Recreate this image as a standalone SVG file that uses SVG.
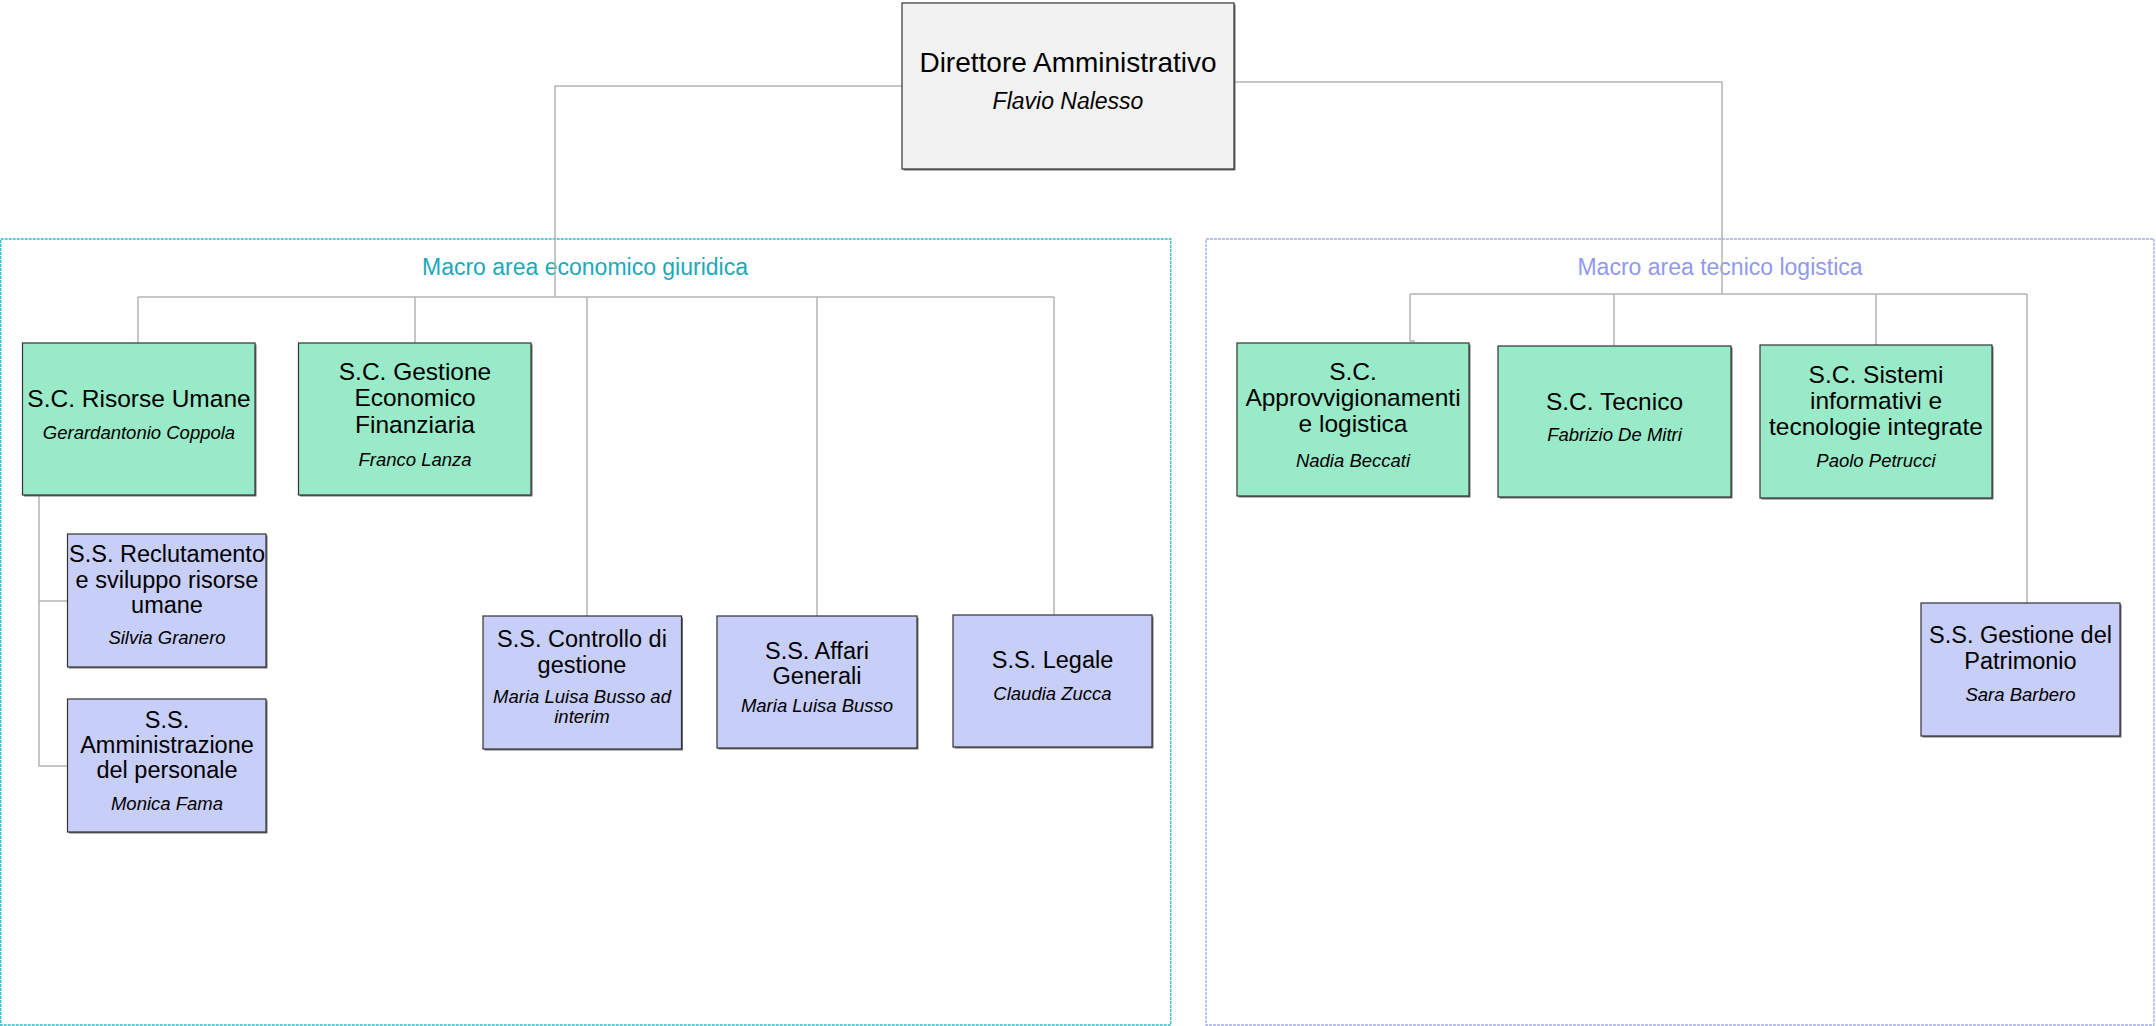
<svg xmlns="http://www.w3.org/2000/svg" width="2156" height="1026" viewBox="0 0 2156 1026">
<style>
.bg{fill:#ffffff}
.area-l{fill:none;stroke:#2bbcc8;stroke-width:1.3;stroke-dasharray:3 1}
.area-r{fill:none;stroke:#a3a9f0;stroke-width:1.3;stroke-dasharray:3 1}
.tl{font-family:"Liberation Sans",Arial,sans-serif;font-size:23px;fill:#1aaab9;text-anchor:middle}
.tr{font-family:"Liberation Sans",Arial,sans-serif;font-size:23px;fill:#9199ef;text-anchor:middle}
.sh{fill:#6f6f6f}
.dir{fill:#f2f2f2;stroke:#333333;stroke-width:1.2}
.sc{fill:#98eac8;stroke:#333333;stroke-width:1.2}
.ss{fill:#c7cef8;stroke:#333333;stroke-width:1.2}
text{font-family:"Liberation Sans",Arial,sans-serif;fill:#000000;text-anchor:middle}
.t28{font-size:28px}
.n23{font-size:23px;font-style:italic}
.tsc{font-size:24.5px}
.tss{font-size:23.5px}
.nm{font-size:18.5px;font-style:italic}
.conn{fill:none;stroke:#b4b4b4;stroke-width:1.5}
</style>
<rect class="bg" x="0" y="0" width="2156" height="1026"/>

<g id="area-economico-giuridica">
<rect class="area-l" x="0.7" y="239" width="1170" height="786"/>
<text class="tl" x="585" y="275">Macro area economico giuridica</text>
</g>
<g id="area-tecnico-logistica">
<rect class="area-r" x="1206" y="239" width="948" height="786"/>
<text class="tr" x="1720" y="275">Macro area tecnico logistica</text>
</g>

<g id="connectors">
<path class="conn" d="M902 86 H555 V297"/>
<path class="conn" d="M138 297 H1054"/>
<path class="conn" d="M138 297 V343"/>
<path class="conn" d="M415 297 V343"/>
<path class="conn" d="M587 297 V616"/>
<path class="conn" d="M817 297 V616"/>
<path class="conn" d="M1054 297 V615"/>
<path class="conn" d="M39 495 V766 H67"/>
<path class="conn" d="M39 601 H67"/>
<path class="conn" d="M1234 82 H1722 V294"/>
<path class="conn" d="M1410 294 H2027"/>
<path class="conn" d="M1410 294 V341 H1415"/>
<path class="conn" d="M1614 294 V346"/>
<path class="conn" d="M1876 294 V345"/>
<path class="conn" d="M2027 294 V603"/>
</g>

<g id="direttore">
<rect class="sh" x="903.5" y="4.5" width="332" height="166"/>
<rect class="dir" x="902" y="3" width="332" height="166"/>
<text class="t28" x="1068" y="72">Direttore Amministrativo</text>
<text class="n23" x="1068" y="109">Flavio Nalesso</text>
</g>

<g id="sc-risorse-umane">
<rect class="sh" x="24" y="344.5" width="232.5" height="152"/>
<rect class="sc" x="22.5" y="343" width="232.5" height="152"/>
<text class="tsc" x="139" y="407">S.C. Risorse Umane</text>
<text class="nm" x="139" y="439">Gerardantonio  Coppola</text>
</g>

<g id="sc-gestione-economico-finanziaria">
<rect class="sh" x="300" y="344.5" width="232.5" height="152"/>
<rect class="sc" x="298.5" y="343" width="232.5" height="152"/>
<text class="tsc" x="415" y="380">S.C. Gestione</text>
<text class="tsc" x="415" y="406">Economico</text>
<text class="tsc" x="415" y="433">Finanziaria</text>
<text class="nm" x="415" y="466">Franco Lanza</text>
</g>

<g id="ss-reclutamento">
<rect class="sh" x="69" y="535.5" width="198.5" height="133"/>
<rect class="ss" x="67.5" y="534" width="198.5" height="133"/>
<text class="tss" x="167" y="562">S.S. Reclutamento</text>
<text class="tss" x="167" y="588">e sviluppo risorse</text>
<text class="tss" x="167" y="613">umane</text>
<text class="nm" x="167" y="644">Silvia Granero</text>
</g>

<g id="ss-amministrazione-personale">
<rect class="sh" x="69" y="700.5" width="198.5" height="133"/>
<rect class="ss" x="67.5" y="699" width="198.5" height="133"/>
<text class="tss" x="167" y="728">S.S.</text>
<text class="tss" x="167" y="753">Amministrazione</text>
<text class="tss" x="167" y="778">del personale</text>
<text class="nm" x="167" y="810">Monica Fama</text>
</g>

<g id="ss-controllo-gestione">
<rect class="sh" x="484.5" y="617.5" width="198.5" height="133"/>
<rect class="ss" x="483" y="616" width="198.5" height="133"/>
<text class="tss" x="582" y="647">S.S. Controllo di</text>
<text class="tss" x="582" y="673">gestione</text>
<text class="nm" x="582" y="703">Maria Luisa Busso ad</text>
<text class="nm" x="582" y="723">interim</text>
</g>

<g id="ss-affari-generali">
<rect class="sh" x="718.5" y="617.5" width="200" height="132"/>
<rect class="ss" x="717" y="616" width="200" height="132"/>
<text class="tss" x="817" y="659">S.S. Affari</text>
<text class="tss" x="817" y="684">Generali</text>
<text class="nm" x="817" y="712">Maria Luisa Busso</text>
</g>

<g id="ss-legale">
<rect class="sh" x="954.5" y="616.5" width="199" height="132"/>
<rect class="ss" x="953" y="615" width="199" height="132"/>
<text class="tss" x="1052.5" y="668">S.S. Legale</text>
<text class="nm" x="1052.5" y="700">Claudia Zucca</text>
</g>

<g id="sc-approvvigionamenti">
<rect class="sh" x="1238.5" y="344.5" width="232" height="153"/>
<rect class="sc" x="1237" y="343" width="232" height="153"/>
<text class="tsc" x="1353" y="380">S.C.</text>
<text class="tsc" x="1353" y="406">Approvvigionamenti</text>
<text class="tsc" x="1353" y="432">e logistica</text>
<text class="nm" x="1353" y="467">Nadia Beccati</text>
</g>

<g id="sc-tecnico">
<rect class="sh" x="1499.5" y="347.5" width="233" height="151"/>
<rect class="sc" x="1498" y="346" width="233" height="151"/>
<text class="tsc" x="1614.5" y="410">S.C. Tecnico</text>
<text class="nm" x="1614.5" y="441">Fabrizio De Mitri</text>
</g>

<g id="sc-sistemi-informativi">
<rect class="sh" x="1761.5" y="346.5" width="232" height="153"/>
<rect class="sc" x="1760" y="345" width="232" height="153"/>
<text class="tsc" x="1876" y="383">S.C. Sistemi</text>
<text class="tsc" x="1876" y="409">informativi e</text>
<text class="tsc" x="1876" y="435">tecnologie integrate</text>
<text class="nm" x="1876" y="467">Paolo Petrucci</text>
</g>

<g id="ss-gestione-patrimonio">
<rect class="sh" x="1922.5" y="604.5" width="199" height="133"/>
<rect class="ss" x="1921" y="603" width="199" height="133"/>
<text class="tss" x="2020.5" y="643">S.S. Gestione del</text>
<text class="tss" x="2020.5" y="669">Patrimonio</text>
<text class="nm" x="2020.5" y="701">Sara Barbero</text>
</g>
</svg>
